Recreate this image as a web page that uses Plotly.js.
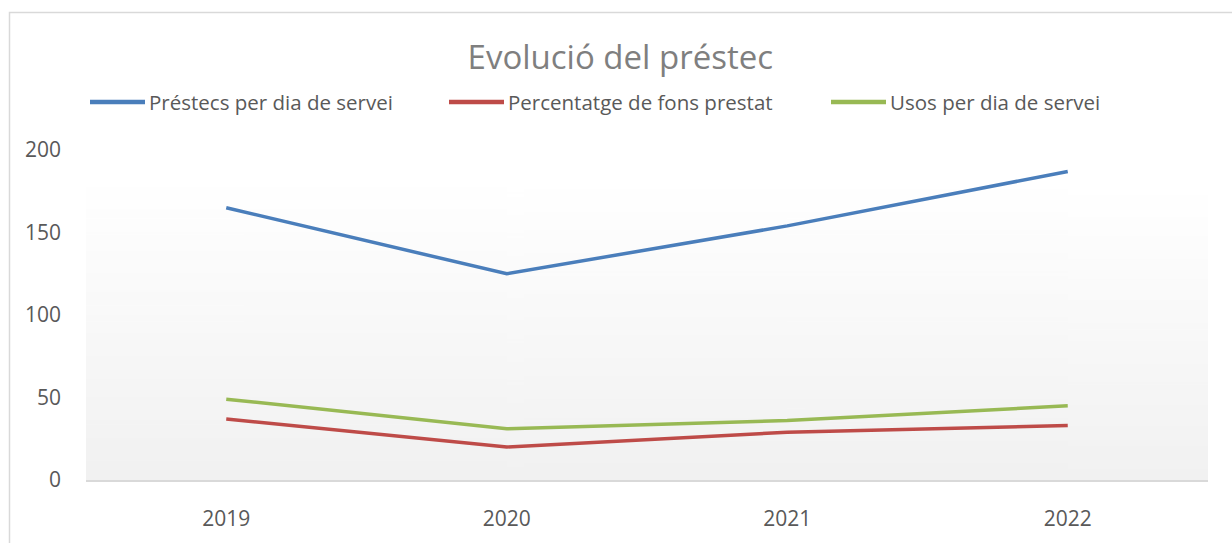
<!DOCTYPE html>
<html>
<head>
<meta charset="utf-8">
<script src="https://cdn.plot.ly/plotly-3.0.1.min.js"></script>
<style>html,body{margin:0;padding:0;background:#fff;}#chart{width:1232px;height:543px;}</style>
</head>
<body>
<div id="chart"></div>
<script>
// ---- data ----
const years = ['2019', '2020', '2021', '2022'];
const seriesNames = ['Préstecs per dia de servei', 'Percentatge de fons prestat', 'Usos per dia de servei'];
const prestecsPerDia = [165, 125, 154, 187];
const percentatgeFons = [37, 20, 29, 33];
const usosPerDia = [49, 31, 36, 45];
const yTicks = [0, 50, 100, 150, 200];
const chartTitle = 'Evolució del préstec';

// ---- styling ----
const colors = ['#4A7EBB', '#BE4B48', '#98B954'];
const W = 1232, H = 543;
const M = {l: 86, r: 24, t: 150, b: 63};
const plotW = W - M.l - M.r, plotH = H - M.t - M.b;
const px2x = px => (px - M.l) / plotW;
const py2y = py => (H - M.b - py) / plotH;
const FONT = 'Open Sans, sans-serif';

// gradient background image
const cv = document.createElement('canvas');
cv.width = 4; cv.height = 256;
const ctx = cv.getContext('2d');
const g = ctx.createLinearGradient(0, 0, 0, 256);
g.addColorStop(0, '#ffffff');
g.addColorStop(1, '#f1f1f1');
ctx.fillStyle = g; ctx.fillRect(0, 0, 4, 256);
const gradURL = cv.toDataURL();

const allValues = [prestecsPerDia, percentatgeFons, usosPerDia];
const traces = allValues.map((vals, i) => ({
  type: 'scatter', mode: 'lines', x: years, y: vals, name: seriesNames[i],
  line: {color: colors[i], width: 3.5}, showlegend: false, hoverinfo: 'x+y+name'
}));

// manual legend (positions as in reference)
const legendLineX = [[90, 145], [449, 504], [831, 886]];
const legendY = 102;
const shapes = [];
const annotations = [];
seriesNames.forEach((nm, i) => {
  shapes.push({type: 'line', xref: 'paper', yref: 'paper',
    x0: px2x(legendLineX[i][0]), x1: px2x(legendLineX[i][1]),
    y0: py2y(legendY), y1: py2y(legendY),
    line: {color: colors[i], width: 4.5}});
  annotations.push({xref: 'paper', yref: 'paper', x: px2x(legendLineX[i][1] + 2), y: py2y(legendY),
    xanchor: 'left', yanchor: 'middle', showarrow: false, text: nm,
    font: {family: FONT, size: 20.5, color: '#595959'}});
});
// chart border
shapes.push({type: 'rect', xref: 'paper', yref: 'paper', layer: 'below',
  x0: px2x(9.5), x1: px2x(1240), y0: py2y(12.5), y1: py2y(560),
  line: {color: '#D9D9D9', width: 1.5}, fillcolor: 'rgba(0,0,0,0)'});

const layout = {
  width: W, height: H,
  margin: M,
  paper_bgcolor: '#ffffff',
  plot_bgcolor: 'rgba(0,0,0,0)',
  title: {text: chartTitle, x: 0.5035, xanchor: 'center', y: 1 - 57 / H, yanchor: 'middle',
    font: {family: FONT, size: 33, color: '#7F7F7F'}},
  showlegend: false,
  xaxis: {type: 'category', range: [-0.5, 3.5], showgrid: false, zeroline: false,
    showline: true, linecolor: '#D9D9D9', linewidth: 2, ticks: '',
    ticklabelstandoff: 19,
    tickfont: {family: FONT, size: 21, color: '#595959'}, fixedrange: true},
  yaxis: {range: [0, 200], tickvals: yTicks, ticktext: yTicks.map(String),
    showgrid: false, zeroline: false, showline: false, ticks: '',
    ticklabelstandoff: 24,
    tickfont: {family: FONT, size: 21, color: '#595959'}, fixedrange: true},
  images: [{source: gradURL, xref: 'paper', yref: 'paper', x: 0, y: py2y(187),
    sizex: 1, sizey: py2y(187), sizing: 'stretch', xanchor: 'left', yanchor: 'top', layer: 'below'}],
  shapes: shapes,
  annotations: annotations
};

Plotly.newPlot('chart', traces, layout, {displayModeBar: false, staticPlot: true});
</script>
</body>
</html>
